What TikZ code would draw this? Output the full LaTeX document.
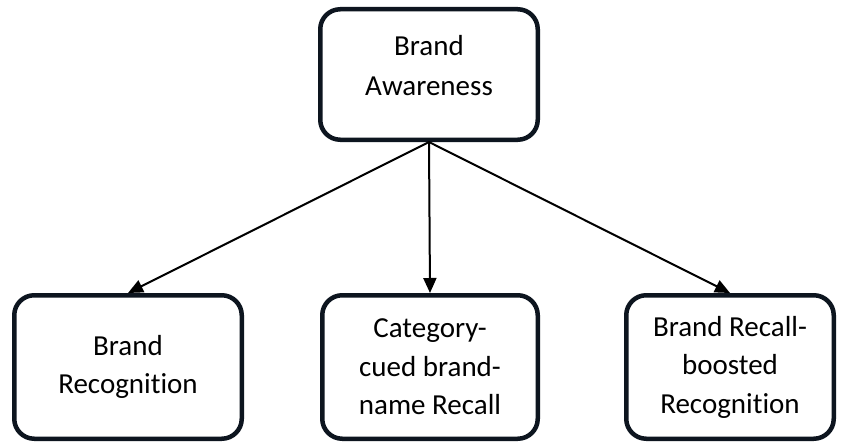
\documentclass[tikz,border=0pt]{standalone}
\usepackage{fontspec}
\setmainfont[Ligatures=NoCommon]{Carlito}
\usetikzlibrary{arrows.meta}
\definecolor{boxline}{RGB}{13,21,31}
\begin{document}
\begin{tikzpicture}[x=1pt,y=-1pt,
  boxnode/.style={draw=boxline, line width=4.5pt, rounded corners=20pt, fill=white,
    align=center, inner sep=0pt, font=\fontsize{29}{38.5}\selectfont},
  boxtext/.style={align=center, inner sep=0pt, font=\fontsize{29}{40}\selectfont},
  conn/.style={line width=2pt, -{Triangle[length=15pt,width=13pt]}}]
\useasboundingbox[fill=white] (0,0) rectangle (841,444);
\node[boxnode, minimum width=217.5pt, minimum height=130.5pt] (top) at (429,74.5) {};
\node[boxtext] (toptext) at (429,66) {Brand\\Awareness};
\node[boxnode, minimum width=227.5pt, minimum height=143.5pt] (left) at (128,367) {Brand\\Recognition};
\node[boxnode, minimum width=215.5pt, minimum height=143.5pt] (mid) at (430,367) {Category-\\cued brand-\\name Recall};
\node[boxnode, minimum width=207.5pt, minimum height=143.5pt] (right) at (730,367) {Brand Recall-\\boosted\\Recognition};
\draw[conn] (top.south) -- (left.north);
\draw[conn] (top.south) -- (mid.north);
\draw[conn] (top.south) -- (right.north);
\end{tikzpicture}
\end{document}
